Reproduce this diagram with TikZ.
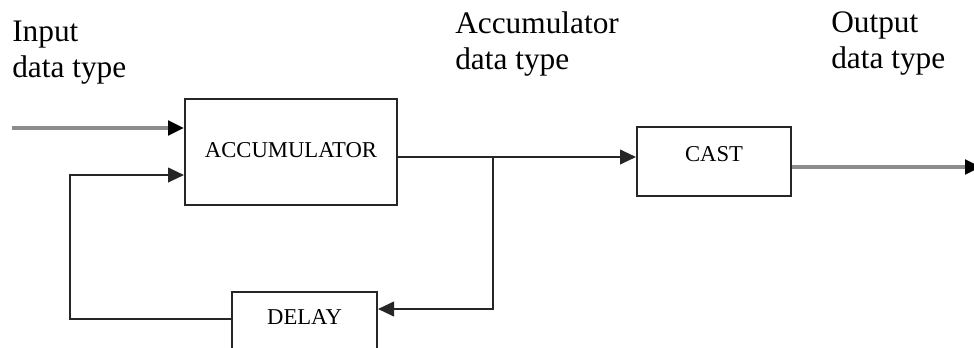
\documentclass[tikz,border=0pt]{standalone}
\usepackage{fontspec}
\setmainfont{Liberation Serif}
\usetikzlibrary{arrows.meta}

\tikzset{
  block/.style={draw=black!85, line width=1.5pt, inner sep=0pt,
    font=\fontsize{17}{20}\selectfont},
  wire/.style={draw=black!85, line width=1.5pt,
    -{Triangle[length=12pt,width=11pt]}},
  greywire/.style={draw=black!45, line width=2.5pt,
    -{Triangle[length=12pt,width=11pt,color=black]}},
  tag/.style={align=left, anchor=base west, inner sep=0pt,
    font=\fontsize{23.5}{27}\selectfont}
}

\begin{document}
\begin{tikzpicture}[x=0.75pt,y=-0.75pt]

\useasboundingbox (0,0) rectangle (974,347);

% Blocks
\node[block, minimum width=159pt, minimum height=79.5pt, text depth=3.7pt] (acc) at (291,152) {ACCUMULATOR};
\node[block, minimum width=115.5pt, minimum height=51.75pt, text depth=11pt] (cast) at (714,161.5) {CAST};
\node[block, minimum width=108.75pt, minimum height=45pt, text depth=7pt] (delay) at (304.5,322) {DELAY};

% Labels (base = last line)
\node[tag] (inlabel) at (12,77) {Input\\data type};
\node[tag] (acclabel) at (455,69) {Accumulator\\data type};
\node[tag] (outlabel) at (831,68) {Output\\data type};

% Free ends
\coordinate (inp) at (12,128);
\coordinate (fb) at (70,175);
\coordinate (split) at (493,157);
\coordinate (dly) at (0,309);
\coordinate (fbl) at (0,319);
\coordinate (outp) at (981,167);

% Connectors
\draw[greywire] (inp) -- (inp -| acc.west);
\draw[wire] (fbl -| delay.west) -| (fb) -- (fb -| acc.west);
\draw[wire] (split -| acc.east) -- (split -| cast.west);
\draw[wire] (split) |- (dly -| delay.east);
\draw[greywire] (outp -| cast.east) -- (outp);
\end{tikzpicture}
\end{document}
